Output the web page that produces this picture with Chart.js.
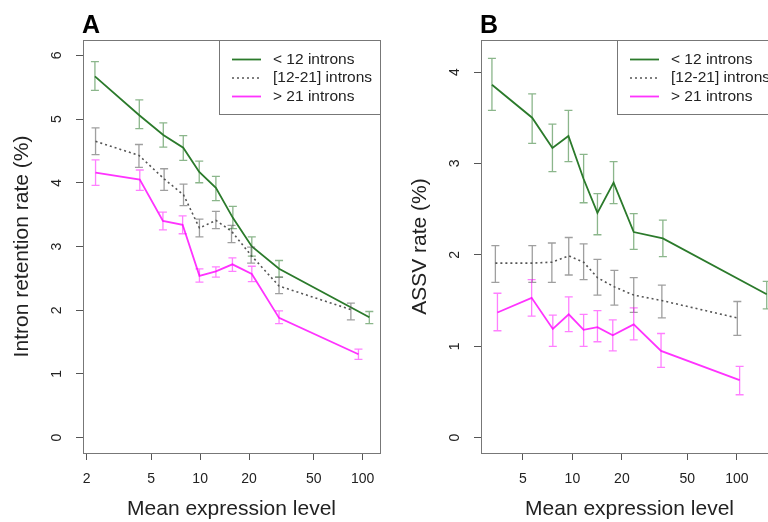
<!DOCTYPE html>
<html>
<head>
<meta charset="utf-8">
<script src="https://cdn.jsdelivr.net/npm/chart.js@4.4.1/dist/chart.umd.min.js"></script>
<style>
html, body { margin: 0; padding: 0; background: #fff; overflow: hidden; width: 768px; height: 522px; }
#wrapA { position: absolute; left: 0; top: 0; width: 384px; height: 522px; }
#wrapB { position: absolute; left: 384px; top: 0; width: 398px; height: 522px; }
</style>
</head>
<body>
<div id="wrapA"><canvas id="chartA" width="384" height="522"></canvas></div>
<div id="wrapB"><canvas id="chartB" width="398" height="522"></canvas></div>
<script>
// series labels
var seriesLabels = ['< 12 introns', '[12-21] introns', '> 21 introns'];

// Panel A - intron retention rate (%)
var xA_low  = [2.25, 4.22, 5.93, 7.87, 9.87, 12.5, 15.9, 20.8, 30.6, 110];
var yA_low  = [5.67, 5.06, 4.75, 4.55, 4.17, 3.92, 3.45, 3.00, 2.65, 1.89];
var loA_low = [5.45, 4.85, 4.56, 4.35, 4.00, 3.72, 3.28, 2.85, 2.52, 1.79];
var hiA_low = [5.90, 5.30, 4.94, 4.74, 4.34, 4.10, 3.63, 3.15, 2.78, 1.98];

var xA_mid  = [2.27, 4.2, 6.0, 7.9, 9.9, 12.5, 15.6, 20.6, 30.6, 84.7];
var yA_mid  = [4.65, 4.43, 4.06, 3.81, 3.29, 3.41, 3.24, 2.86, 2.38, 2.01];
var loA_mid = [4.44, 4.24, 3.88, 3.64, 3.15, 3.28, 3.06, 2.74, 2.26, 1.85];
var hiA_mid = [4.86, 4.60, 4.22, 3.98, 3.43, 3.55, 3.33, 2.99, 2.52, 2.11];

var xA_high  = [2.27, 4.25, 5.9, 7.8, 9.9, 12.5, 15.8, 20.8, 30.6, 94.3];
var yA_high  = [4.16, 4.05, 3.40, 3.34, 2.54, 2.61, 2.72, 2.57, 1.88, 1.31];
var loA_high = [3.96, 3.88, 3.26, 3.20, 2.44, 2.52, 2.61, 2.45, 1.79, 1.23];
var hiA_high = [4.36, 4.20, 3.54, 3.48, 2.65, 2.68, 2.82, 2.69, 1.99, 1.39];

// Panel B - ASSV rate (%)
var xB_low  = [3.24, 5.69, 7.56, 9.46, 11.7, 14.2, 17.8, 23.6, 35.5, 152];
var yB_low  = [3.86, 3.50, 3.17, 3.30, 2.83, 2.46, 2.79, 2.25, 2.18, 1.57];
var loB_low = [3.58, 3.22, 2.91, 3.02, 2.57, 2.22, 2.56, 2.06, 1.98, 1.41];
var hiB_low = [4.15, 3.76, 3.43, 3.58, 3.10, 2.67, 3.02, 2.45, 2.38, 1.71];

var xB_mid  = [3.4, 5.7, 7.5, 9.5, 11.7, 14.2, 18.0, 23.6, 35.0, 100.7];
var yB_mid  = [1.91, 1.91, 1.92, 1.99, 1.92, 1.75, 1.65, 1.56, 1.50, 1.31];
var loB_mid = [1.70, 1.70, 1.70, 1.78, 1.73, 1.56, 1.45, 1.37, 1.31, 1.12];
var hiB_mid = [2.10, 2.10, 2.13, 2.19, 2.12, 1.95, 1.83, 1.75, 1.67, 1.49];

var xB_high  = [3.5, 5.65, 7.6, 9.5, 11.7, 14.2, 17.6, 23.6, 34.6, 104];
var yB_high  = [1.37, 1.53, 1.19, 1.35, 1.18, 1.21, 1.12, 1.24, 0.95, 0.63];
var loB_high = [1.17, 1.33, 1.00, 1.16, 1.00, 1.05, 0.95, 1.07, 0.77, 0.47];
var hiB_high = [1.58, 1.73, 1.34, 1.54, 1.35, 1.39, 1.29, 1.42, 1.14, 0.78];

// tick labels
var xTicksA = [2, 5, 10, 20, 50, 100];
var xTicksB = [5, 10, 20, 50, 100];
var yTicksA = [0, 1, 2, 3, 4, 5, 6];
var yTicksB = [0, 1, 2, 3, 4];

var FONT = '"Liberation Sans", Arial, Helvetica, sans-serif';
var styles = [
    { line: '#2B7A2B', err: 'rgba(43,122,43,0.55)', dash: [] },
    { line: '#555555', err: 'rgba(80,80,80,0.55)', dash: [2, 3] },
    { line: '#FF33FF', err: 'rgba(255,0,255,0.5)', dash: [] }
];

function points(xs, ys) {
    return xs.map(function (x, i) { return { x: x, y: ys[i] }; });
}

function makeSet(i, xs, ys, lo, hi) {
    return {
        label: seriesLabels[i],
        data: points(xs, ys),
        errX: xs, errLo: lo, errHi: hi,
        errColor: styles[i].err,
        borderColor: styles[i].line,
        borderDash: styles[i].dash,
        borderWidth: styles[i].dash.length ? 1.6 : 1.8,
        pointRadius: 0,
        tension: 0,
        fill: false
    };
}

// error bars, drawn with the chart's scales
var errorBars = {
    id: 'errorBars',
    afterDatasetsDraw: function (chart) {
        var ctx = chart.ctx, xs = chart.scales.x, ys = chart.scales.y;
        ctx.save();
        chart.data.datasets.forEach(function (ds) {
            ctx.strokeStyle = ds.errColor;
            ctx.lineWidth = 1.3;
            ds.errX.forEach(function (x, i) {
                var px = xs.getPixelForValue(x);
                var pl = ys.getPixelForValue(ds.errLo[i]);
                var ph = ys.getPixelForValue(ds.errHi[i]);
                ctx.beginPath();
                ctx.moveTo(px, pl); ctx.lineTo(px, ph);
                ctx.moveTo(px - 4, pl); ctx.lineTo(px + 4, pl);
                ctx.moveTo(px - 4, ph); ctx.lineTo(px + 4, ph);
                ctx.stroke();
            });
        });
        ctx.restore();
    }
};

// box, panel letter and R-style legend
var decor = {
    id: 'decor',
    afterDraw: function (chart, args, opts) {
        var ctx = chart.ctx, a = chart.chartArea;
        ctx.save();
        ctx.strokeStyle = '#777';
        ctx.lineWidth = 1;
        ctx.strokeRect(Math.round(a.left) + 0.5, Math.round(a.top) + 0.5,
            Math.round(a.right - a.left), Math.round(a.bottom - a.top));

        ctx.fillStyle = '#000';
        ctx.font = 'bold 25px ' + FONT;
        ctx.textBaseline = 'alphabetic';
        ctx.textAlign = 'left';
        ctx.fillText(opts.letter, a.left - 1, 33);

        // legend
        var w = 161, h = 74;
        var bx = Math.round(a.right - w), by = Math.round(a.top);
        ctx.strokeRect(bx + 0.5, by + 0.5, w, h);
        ctx.font = '15.5px ' + FONT;
        ctx.textBaseline = 'middle';
        chart.data.datasets.forEach(function (ds, i) {
            var y = by + 19.5 + i * 18.5;
            ctx.strokeStyle = ds.borderColor;
            ctx.lineWidth = ds.borderWidth;
            ctx.setLineDash(ds.borderDash);
            ctx.beginPath();
            ctx.moveTo(bx + 13, y); ctx.lineTo(bx + 42, y);
            ctx.stroke();
            ctx.setLineDash([]);
            ctx.fillStyle = '#222';
            ctx.fillText(ds.label, bx + 54, y);
        });
        ctx.restore();
    }
};

function makeChart(id, opt) {
    return new Chart(document.getElementById(id), {
        type: 'line',
        data: { datasets: opt.sets },
        plugins: [errorBars, decor],
        options: {
            responsive: false,
            animation: false,
            events: [],
            layout: { padding: { left: 0, right: 4, top: 40, bottom: 0 } },
            plugins: {
                legend: { display: false },
                tooltip: { enabled: false },
                decor: { letter: opt.letter }
            },
            scales: {
                x: {
                    type: 'logarithmic',
                    bounds: 'data',
                    min: opt.xMin, max: opt.xMax,
                    afterBuildTicks: function (s) { s.ticks = opt.xTicks.map(function (v) { return { value: v }; }); },
                    afterFit: function (s) { s.height = 69; },
                    border: { display: false },
                    grid: { drawOnChartArea: false, drawTicks: true, tickLength: 7, color: '#555', lineWidth: 1 },
                    ticks: {
                        autoSkip: false, maxRotation: 0, padding: 9,
                        color: '#222', font: { family: FONT, size: 14, lineHeight: 1.45 },
                        callback: function (v) { return String(v); }
                    },
                    title: {
                        display: true, text: 'Mean expression level', color: '#222',
                        font: { family: FONT, size: 21 }, padding: { top: 0, bottom: 0 }
                    }
                },
                y: {
                    type: 'linear',
                    bounds: 'data',
                    min: opt.yMin, max: opt.yMax,
                    afterBuildTicks: function (s) { s.ticks = opt.yTicks.map(function (v) { return { value: v }; }); },
                    afterFit: function (s) { s.width = opt.yWidth; },
                    border: { display: false },
                    grid: { drawOnChartArea: false, drawTicks: true, tickLength: 7, color: '#555', lineWidth: 1 },
                    ticks: {
                        autoSkip: false, minRotation: 90, maxRotation: 90, crossAlign: 'center', padding: 15,
                        color: '#222', font: { family: FONT, size: 14 },
                        callback: function (v) { return String(v); }
                    },
                    title: {
                        display: true, text: opt.yTitle, color: '#222',
                        font: { family: FONT, size: 21 }, padding: { top: opt.yTitlePad, bottom: 0 }
                    }
                }
            }
        }
    });
}

makeChart('chartA', {
    letter: 'A',
    sets: [
        makeSet(0, xA_low, yA_low, loA_low, hiA_low),
        makeSet(1, xA_mid, yA_mid, loA_mid, hiA_mid),
        makeSet(2, xA_high, yA_high, loA_high, hiA_high)
    ],
    xMin: 1.9, xMax: 128, xTicks: xTicksA,
    yMin: -0.24, yMax: 6.24, yTicks: yTicksA,
    yWidth: 83, yTitle: 'Intron retention rate (%)', yTitlePad: 10
});

makeChart('chartB', {
    letter: 'B',
    sets: [
        makeSet(0, xB_low, yB_low, loB_low, hiB_low),
        makeSet(1, xB_mid, yB_mid, loB_mid, hiB_mid),
        makeSet(2, xB_high, yB_high, loB_high, hiB_high)
    ],
    xMin: 2.78, xMax: 178, xTicks: xTicksB,
    yMin: -0.167, yMax: 4.35, yTicks: yTicksB,
    yWidth: 97, yTitle: 'ASSV rate (%)', yTitlePad: 24
});
</script>
</body>
</html>
